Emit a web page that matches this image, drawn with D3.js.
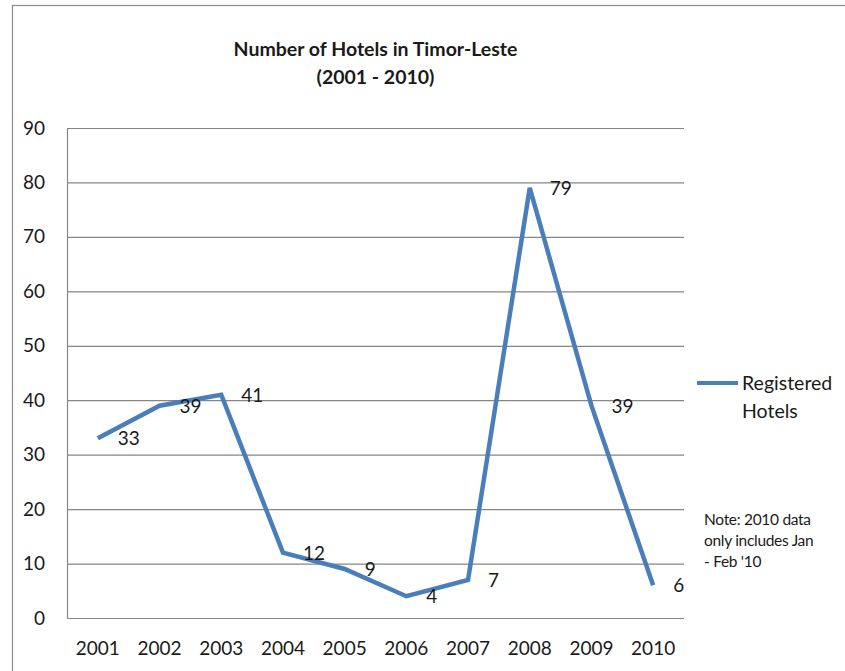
<!DOCTYPE html>
<html>
<head>
<meta charset="utf-8">
<script src="https://cdn.jsdelivr.net/npm/d3@7/dist/d3.min.js"></script>
<style>
  html, body { margin: 0; padding: 0; background: #fff; }
  svg { display: block; }
  text { font-family: Lato, "Open Sans", sans-serif; fill: #1a1a1a; }
</style>
</head>
<body>
<svg id="chart" width="845" height="671"></svg>
<script>
// Registered hotels per year
const years = ["2001", "2002", "2003", "2004", "2005", "2006", "2007", "2008", "2009", "2010"];
const hotels = [33, 39, 41, 12, 9, 4, 7, 79, 39, 6];
const yTicks = [0, 10, 20, 30, 40, 50, 60, 70, 80, 90];
const titleLines = ["Number of Hotels in Timor-Leste", "(2001 - 2010)"];
const legendLines = ["Registered", "Hotels"];
const noteLines = ["Note: 2010 data", "only includes Jan", "- Feb '10"];

const svg = d3.select("#chart");
const W = 845, H = 671;
const plot = { left: 67, right: 684, top: 128, bottom: 618 };
const lineColor = "#4a7ebb";
const gridColor = "#868686";

// chart frame
svg.append("rect")
  .attr("x", 12.5).attr("y", 5.5)
  .attr("width", W + 20).attr("height", H + 20)
  .attr("fill", "#fff").attr("stroke", "#8c8c8c").attr("stroke-width", 1.2);

const x = d3.scaleBand().domain(years).range([plot.left, plot.right]);
const y = d3.scaleLinear().domain([0, 90]).range([plot.bottom, plot.top]);

// gridlines + y axis labels
const yAxis = d3.axisLeft(y).tickValues(yTicks).tickSize(-(plot.right - plot.left)).tickPadding(22)
  .tickFormat(d3.format("d"));
const gy = svg.append("g").attr("transform", `translate(${plot.left},0)`).call(yAxis);
gy.select(".domain").attr("stroke", gridColor).attr("stroke-width", 1.2);
gy.selectAll(".tick line").attr("stroke", gridColor).attr("stroke-width", 1.2);
gy.selectAll(".tick text").attr("font-size", 19).attr("font-family", "Lato, sans-serif").attr("fill", "#1a1a1a");

// x axis labels
const xAxis = d3.axisBottom(x).tickSize(0).tickPadding(24);
const gx = svg.append("g").attr("transform", `translate(0,${plot.bottom})`).call(xAxis);
gx.select(".domain").remove();
gx.selectAll(".tick text").attr("font-size", 19).attr("font-family", "Lato, sans-serif").attr("fill", "#1a1a1a");

// series line
const line = d3.line()
  .x((d, i) => x(years[i]) + x.bandwidth() / 2)
  .y(d => y(d));
svg.append("path")
  .datum(hotels)
  .attr("d", line)
  .attr("fill", "none")
  .attr("stroke", lineColor)
  .attr("stroke-width", 4.5)
  .attr("stroke-linejoin", "miter");

// value labels to the right of each point
svg.selectAll(".vlabel").data(hotels).enter().append("text")
  .attr("class", "vlabel")
  .attr("x", (d, i) => x(years[i]) + x.bandwidth() / 2 + 20)
  .attr("y", d => y(d))
  .attr("dy", "0.36em")
  .attr("font-size", 19)
  .text(d => d);

// title
svg.selectAll(".title").data(titleLines).enter().append("text")
  .attr("class", "title")
  .attr("x", (plot.left + plot.right) / 2)
  .attr("y", (d, i) => 49 + i * 28)
  .attr("dy", "0.35em")
  .attr("text-anchor", "middle")
  .attr("font-size", 19.5)
  .attr("font-weight", "bold")
  .text(d => d);

// legend
svg.append("line")
  .attr("x1", 697).attr("x2", 738)
  .attr("y1", 383).attr("y2", 383)
  .attr("stroke", lineColor).attr("stroke-width", 4);
svg.selectAll(".legend").data(legendLines).enter().append("text")
  .attr("class", "legend")
  .attr("x", 742)
  .attr("y", (d, i) => 383 + i * 28)
  .attr("dy", "0.36em")
  .attr("font-size", 19.5)
  .text(d => d);

// note
svg.selectAll(".note").data(noteLines).enter().append("text")
  .attr("class", "note")
  .attr("x", 704)
  .attr("y", (d, i) => 519 + i * 21)
  .attr("dy", "0.36em")
  .attr("font-size", 15.5)
  .attr("letter-spacing", -0.3)
  .text(d => d);
</script>
</body>
</html>
